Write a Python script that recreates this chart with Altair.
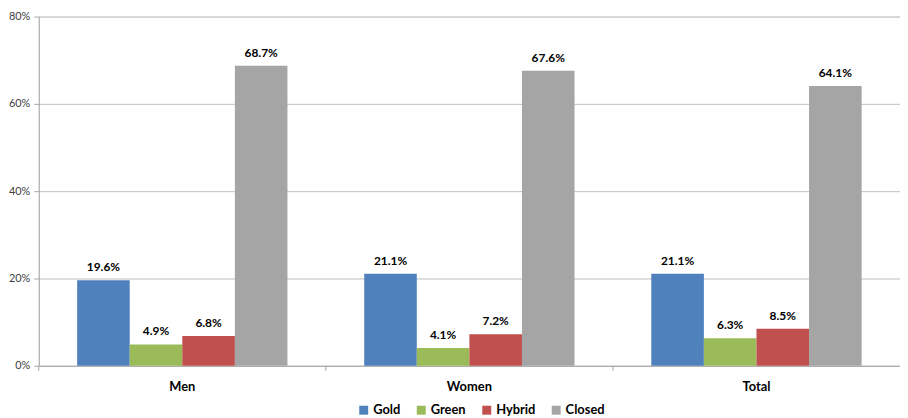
import altair as alt
import pandas as pd

categories = ["Men", "Women", "Total"]
series = ["Gold", "Green", "Hybrid", "Closed"]
gold = [19.6, 21.1, 21.1]
green = [4.9, 4.1, 6.3]
hybrid = [6.8, 7.2, 8.5]
closed = [68.7, 67.6, 64.1]
colors = ["#4F81BD", "#9BBB59", "#C0504D", "#A5A5A5"]
y_ticks = [0, 20, 40, 60, 80]

rows = []
for s, vals in zip(series, [gold, green, hybrid, closed]):
    for c, v in zip(categories, vals):
        rows.append({"group": c, "series": s, "value": v})
df = pd.DataFrame(rows)
df_cat = pd.DataFrame({"group": categories})

FONT = "Lato"
W, H = 868, 352

xscale = alt.Scale(domain=categories, paddingInner=0, paddingOuter=0)
yscale = alt.Scale(domain=[0, 80], nice=False)
xaxis = alt.Axis(title=None, labelAngle=0, labelFont=FONT, labelFontWeight="bold",
                 labelFontSize=13, labelColor="#000000", domainColor="#A6A6A6",
                 ticks=False, labelPadding=15, grid=False)

base = alt.Chart(df).transform_calculate(
    label="format(datum.value, '.1f') + '%'"
).encode(
    x=alt.X("group:N", sort=categories, scale=xscale, axis=xaxis),
    xOffset=alt.XOffset("series:N", sort=series,
                        scale=alt.Scale(domain=series, paddingInner=0, paddingOuter=0.73)),
    y=alt.Y(
        "value:Q", scale=yscale,
        axis=alt.Axis(title=None, values=y_ticks, labelExpr="datum.value + '%'",
                      gridColor="#BFBFBF", domainColor="#A6A6A6", tickColor="#A6A6A6",
                      tickSize=5, labelFont=FONT, labelFontSize=11, labelColor="#404040",
                      labelPadding=4),
    ),
)

bars = base.mark_bar().encode(
    color=alt.Color(
        "series:N", sort=series,
        scale=alt.Scale(domain=series, range=colors),
        legend=alt.Legend(title=None, orient="none", legendX=321, legendY=390,
                          direction="horizontal", symbolType="square", symbolSize=81,
                          symbolStrokeWidth=0, labelFont=FONT, labelFontWeight="bold",
                          labelFontSize=13, labelColor="#000000", columnPadding=14,
                          labelOffset=3, padding=0),
    )
)

labels = base.mark_text(dy=-9, baseline="alphabetic", font=FONT, fontWeight="bold",
                        fontSize=12, color="#000000").encode(text="label:N")

cat_ticks = alt.Chart(df_cat).mark_rule(color="#A6A6A6", strokeWidth=1).encode(
    x=alt.X("group:N", sort=categories, bandPosition=0, scale=xscale, axis=xaxis),
    y=alt.value(H),
    y2=alt.value(H + 5),
)

chart = alt.layer(bars, labels, cat_ticks).properties(
    width=W, height=H,
    autosize=alt.AutoSizeParams(type="none"),
    padding={"left": 31, "top": 7, "right": 0, "bottom": 51},
).configure_view(stroke=None).configure(background="white")

chart.save("out.html", embed_options={"renderer": "svg", "actions": False})
